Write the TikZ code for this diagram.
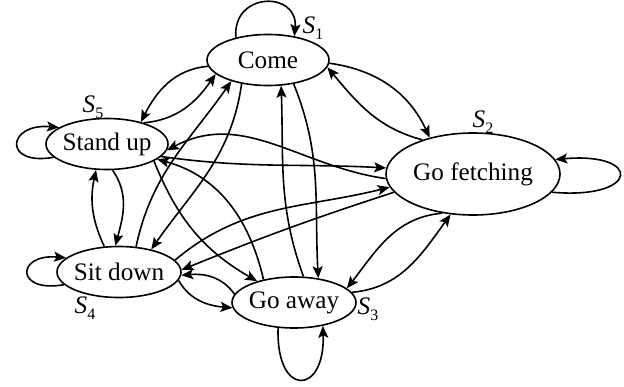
\documentclass[tikz,border=0pt]{standalone}
\usepackage{fontspec}
\setmainfont{Liberation Serif}
\usetikzlibrary{arrows.meta, shapes.geometric}
\newcommand{\sname}[1]{\textit{S}\raisebox{-0.5ex}{\footnotesize #1}}
\tikzset{
  every picture/.style={line width=0.8pt},
  st/.style={draw, ellipse, inner xsep=-2pt, inner ysep=0pt, minimum width=#1, minimum height=25.5pt, font=\fontsize{12.6}{15}\selectfont},
  st/.default=61pt,
  tag/.style={inner sep=0pt, font=\fontsize{12.6}{15}\selectfont},
  arr/.style={-{Stealth[length=6pt, width=5pt, inset=1.3pt]}},
}

\begin{document}
\begin{tikzpicture}[x=0.5pt, y=0.5pt]
  \useasboundingbox (0,0) rectangle (624,386);
  % states
  \node[st] (come) at (268,326) {Come};
  \node[st] (stand) at (107,242) {Stand up};
  \node[st=87pt, minimum height=41pt] (fetch) at (473,212) {Go fetching};
  \node[st=62pt] (sit) at (119,114) {Sit down};
  \node[st=62pt] (away) at (294,83.5) {Go away};
  % state labels
  \node[tag] (s1) at (313,358) {\sname{1}};
  \node[tag] (s2) at (483,264) {\sname{2}};
  \node[tag] (s3) at (368,77) {\sname{3}};
  \node[tag] (s4) at (85,78) {\sname{4}};
  \node[tag] (s5) at (93,279) {\sname{5}};
  % self loops
  \draw[arr] (come.145) to[out=95, in=85, distance=23pt] (come.42);
  \draw[arr] (stand.194) to[out=190, in=175, distance=26pt] (stand.161);
  \draw[arr] (fetch.-13) to[out=-5, in=5, distance=44pt] (fetch.10);
  \draw[arr] (sit.193) to[out=190, in=175, distance=25pt] (sit.165);
  \draw[arr] (away.238) to[out=268, in=272, distance=35pt] (away.321);
  % come <-> stand up
  \draw[arr] (come.186) to[out=185, in=63] (stand.33);
  \draw[arr] (stand.30) to[out=5, in=235] (come.195);
  % come <-> sit down
  \draw[arr] (come.222) to[out=262, in=55] (sit.35);
  \draw[arr] (sit.56) to[out=78, in=235] (come.210);
  % come <-> go away
  \draw[arr] (come.317) to[out=-68, in=93] (away.45);
  \draw[arr] (away.70) to[out=110, in=-88] (come.297);
  % come <-> go fetching
  \draw[arr] (come.357) to[out=-8, in=115] (fetch.140);
  \draw[arr] (fetch.146) to[out=165, in=-50] (come.353);
  % stand up <-> go fetching
  \draw[arr] (stand.-13) to[out=-8, in=177] (fetch.176);
  \draw[arr] (fetch.183) to[out=172, in=28] (stand.-6);
  % stand up <-> go away
  \draw[arr] (stand.-20) to[out=-68, in=150] (away.150);
  \draw[arr] (away.143) to[out=103, in=-15] (stand.-17);
  % stand up <-> sit down
  \draw[arr] (stand.-78) to[out=-55, in=75] (sit.98);
  \draw[arr] (sit.120) to[out=115, in=-102] (stand.247);
  % sit down <-> go fetching
  \draw[arr] (sit.12) to[out=40, in=194] (fetch.189);
  \draw[arr] (fetch.193) to[out=198, in=22] (sit.2);
  % sit down <-> go away
  \draw[arr] (sit.-8) to[out=-60, in=175] (away.185);
  \draw[arr] (away.172) to[out=125, in=5] (sit.-3);
  % go away <-> go fetching
  \draw[arr] (away.10) to[out=5, in=234] (fetch.241);
  \draw[arr] (fetch.232) to[out=185, in=52] (away.15);
\end{tikzpicture}
\end{document}
